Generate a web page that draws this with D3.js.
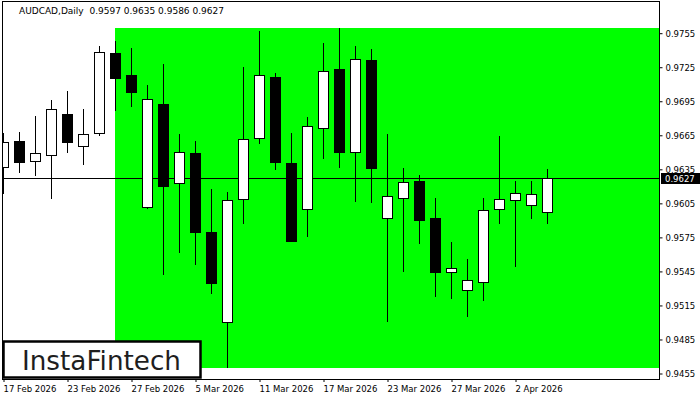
<!DOCTYPE html>
<html>
<head>
<meta charset="utf-8">
<script src="https://cdn.jsdelivr.net/npm/d3@7"></script>
<style>
  html, body { margin: 0; padding: 0; background: #fff; }
  svg { display: block; }
  text { font-family: "DejaVu Sans", sans-serif; }
</style>
</head>
<body>
<svg id="chart" width="700" height="400"></svg>
<script>
// ---- data ----
const symbol = "AUDCAD,Daily";
const lastOHLC = [0.9597, 0.9635, 0.9586, 0.9627];
const dates = ["17 Feb 2026","18 Feb 2026","19 Feb 2026","20 Feb 2026","23 Feb 2026","24 Feb 2026","25 Feb 2026","26 Feb 2026","27 Feb 2026","2 Mar 2026","3 Mar 2026","4 Mar 2026","5 Mar 2026","6 Mar 2026","9 Mar 2026","10 Mar 2026","11 Mar 2026","12 Mar 2026","13 Mar 2026","16 Mar 2026","17 Mar 2026","18 Mar 2026","19 Mar 2026","20 Mar 2026","23 Mar 2026","24 Mar 2026","25 Mar 2026","26 Mar 2026","27 Mar 2026","30 Mar 2026","31 Mar 2026","1 Apr 2026","2 Apr 2026","3 Apr 2026","6 Apr 2026"];
const open  = [0.96363,0.96595,0.96422,0.96469,0.96833,0.96549,0.96663,0.97374,0.97177,0.96011,0.96921,0.96222,0.96487,0.95793,0.94997,0.96081,0.96619,0.97160,0.96401,0.95993,0.96707,0.97227,0.96496,0.97307,0.95919,0.96095,0.96243,0.95916,0.95438,0.95279,0.95355,0.95993,0.96072,0.96028,0.9597];
const high  = [0.96663,0.96675,0.96816,0.96957,0.97039,0.96877,0.97433,0.97477,0.97415,0.97089,0.97274,0.96657,0.96595,0.96172,0.96146,0.97248,0.97565,0.97195,0.96666,0.96807,0.97459,0.97591,0.97433,0.97406,0.96657,0.96355,0.96293,0.96093,0.95705,0.95555,0.96093,0.96639,0.96243,0.96243,0.9635];
const low   = [0.96125,0.96316,0.96287,0.96087,0.96492,0.96386,0.96642,0.96862,0.96898,0.95998,0.95417,0.95611,0.95505,0.95249,0.94591,0.95866,0.96571,0.96342,0.95708,0.95749,0.96439,0.96360,0.96060,0.96051,0.95000,0.95443,0.95690,0.95223,0.95205,0.95046,0.95187,0.95866,0.95487,0.95910,0.9586];
const close = [0.96584,0.96413,0.96489,0.96877,0.96589,0.96657,0.97377,0.97153,0.97030,0.96963,0.96201,0.96496,0.95796,0.95346,0.96072,0.96610,0.97174,0.96413,0.95716,0.96725,0.97210,0.96501,0.97316,0.96360,0.96108,0.96231,0.95901,0.95443,0.95473,0.95367,0.95984,0.96081,0.96134,0.96125,0.9627];
const yTickValues = [0.9755,0.9725,0.9695,0.9665,0.9635,0.9605,0.9575,0.9545,0.9515,0.9485,0.9455];
const xTickLabels = ["17 Feb 2026","23 Feb 2026","27 Feb 2026","5 Mar 2026","11 Mar 2026","17 Mar 2026","23 Mar 2026","27 Mar 2026","2 Apr 2026"];
const zoneStart = "26 Feb 2026";
const zoneHigh = 0.97591, zoneLow = 0.94597;
const brand = "InstaFintech";

// ---- layout ----
const W = 700, H = 400;
const plot = { left: 2.5, right: 659.5, top: 1.5, bottom: 379.5 };
const svg = d3.select("#chart");

const idx = d3.scaleLinear().domain([0, 1]).range([3.5, 19.5]);
const xOf = d => idx(dates.indexOf(d));
const y = d3.scaleLinear().domain([0.9455, 0.9755]).range([373, 32.7]);

svg.append("clipPath").attr("id", "pc").append("rect")
  .attr("x", plot.left).attr("y", plot.top)
  .attr("width", plot.right - plot.left).attr("height", plot.bottom - plot.top);

const g = svg.append("g").attr("clip-path", "url(#pc)");

// green zone
g.append("rect")
  .attr("x", Math.floor(xOf(zoneStart)))
  .attr("y", Math.round(y(zoneHigh)))
  .attr("width", plot.right - Math.floor(xOf(zoneStart)))
  .attr("height", Math.round(y(zoneLow)) - Math.round(y(zoneHigh)))
  .attr("fill", "#00ff00");

// current price line
const py = Math.round(y(lastOHLC[3])) + 0.5;
g.append("line").attr("x1", plot.left).attr("x2", plot.right)
  .attr("y1", py).attr("y2", py).attr("stroke", "#000").attr("stroke-width", 1);

// candles
const candles = dates.map((d, i) => ({ d, o: open[i], h: high[i], l: low[i], c: close[i] }));
const cg = g.selectAll("g.candle").data(candles).join("g").attr("class", "candle");
cg.append("line")
  .attr("x1", d => xOf(d.d)).attr("x2", d => xOf(d.d))
  .attr("y1", d => Math.round(y(d.h))).attr("y2", d => Math.round(y(d.l)))
  .attr("stroke", "#000").attr("stroke-width", 1);
cg.append("rect")
  .attr("x", d => xOf(d.d) - 5)
  .attr("y", d => Math.round(y(Math.max(d.o, d.c))) + 0.5)
  .attr("width", 10)
  .attr("height", d => Math.max(1, Math.round(y(Math.min(d.o, d.c))) - Math.round(y(Math.max(d.o, d.c)))))
  .attr("fill", d => d.c >= d.o ? "#fff" : "#000")
  .attr("stroke", "#000").attr("stroke-width", 1);

// frame
svg.append("rect").attr("x", plot.left).attr("y", plot.top)
  .attr("width", plot.right - plot.left).attr("height", plot.bottom - plot.top)
  .attr("fill", "none").attr("stroke", "#000").attr("stroke-width", 1);

// y axis
const yAxis = d3.axisRight(y).tickValues(yTickValues).tickFormat(d3.format(".4f")).tickSize(3).tickPadding(3);
const ya = svg.append("g").attr("transform", `translate(${plot.right},0)`).call(yAxis);
ya.select(".domain").remove();
ya.selectAll("line").attr("stroke", "#000").attr("transform", "translate(0,0.5)");
ya.selectAll("text").attr("font-size", 8.5).attr("fill", "#000").attr("dy", "0.45em")
  .attr("font-family", "DejaVu Sans");

// price label
const pg = svg.append("g");
pg.append("rect").attr("x", 661).attr("y", py - 5.5).attr("width", 39).attr("height", 11).attr("fill", "#000");
pg.append("text").attr("x", 665).attr("y", py).attr("dy", "0.36em")
  .attr("font-size", 8.5).attr("fill", "#fff").text(d3.format(".4f")(lastOHLC[3]));

// x axis
const xAxis = d3.axisBottom(d3.scaleLinear().domain(idx.domain()).range(idx.range()))
  .tickValues(xTickLabels.map(d => dates.indexOf(d)))
  .tickFormat(i => dates[i]).tickSize(3).tickPadding(4);
const xa = svg.append("g").attr("transform", `translate(0,${plot.bottom - 0.5})`).call(xAxis);
xa.select(".domain").remove();
xa.selectAll("line").attr("stroke", "#000");
xa.selectAll("text").attr("font-size", 8.5).attr("fill", "#000")
  .attr("text-anchor", "start").attr("dx", "-0.5");

// title
svg.append("text").attr("x", 19).attr("y", 13.5).attr("font-size", 9).attr("fill", "#000")
  .attr("xml:space", "preserve")
  .text(symbol + "  " + lastOHLC.map(d3.format(".4f")).join(" "));

// logo
const lg = svg.append("g");
lg.append("rect").attr("x", 3.5).attr("y", 341.5).attr("width", 197).attr("height", 36)
  .attr("fill", "#fff").attr("stroke", "#000").attr("stroke-width", 2.5);
lg.append("text").attr("x", 22).attr("y", 369.5)
  .attr("font-family", "Inter, 'Noto Sans', sans-serif").attr("font-size", 27).attr("font-weight", 500)
  .attr("fill", "#1e1e1e").attr("textLength", 159).attr("lengthAdjust", "spacingAndGlyphs")
  .text(brand);
</script>
</body>
</html>
